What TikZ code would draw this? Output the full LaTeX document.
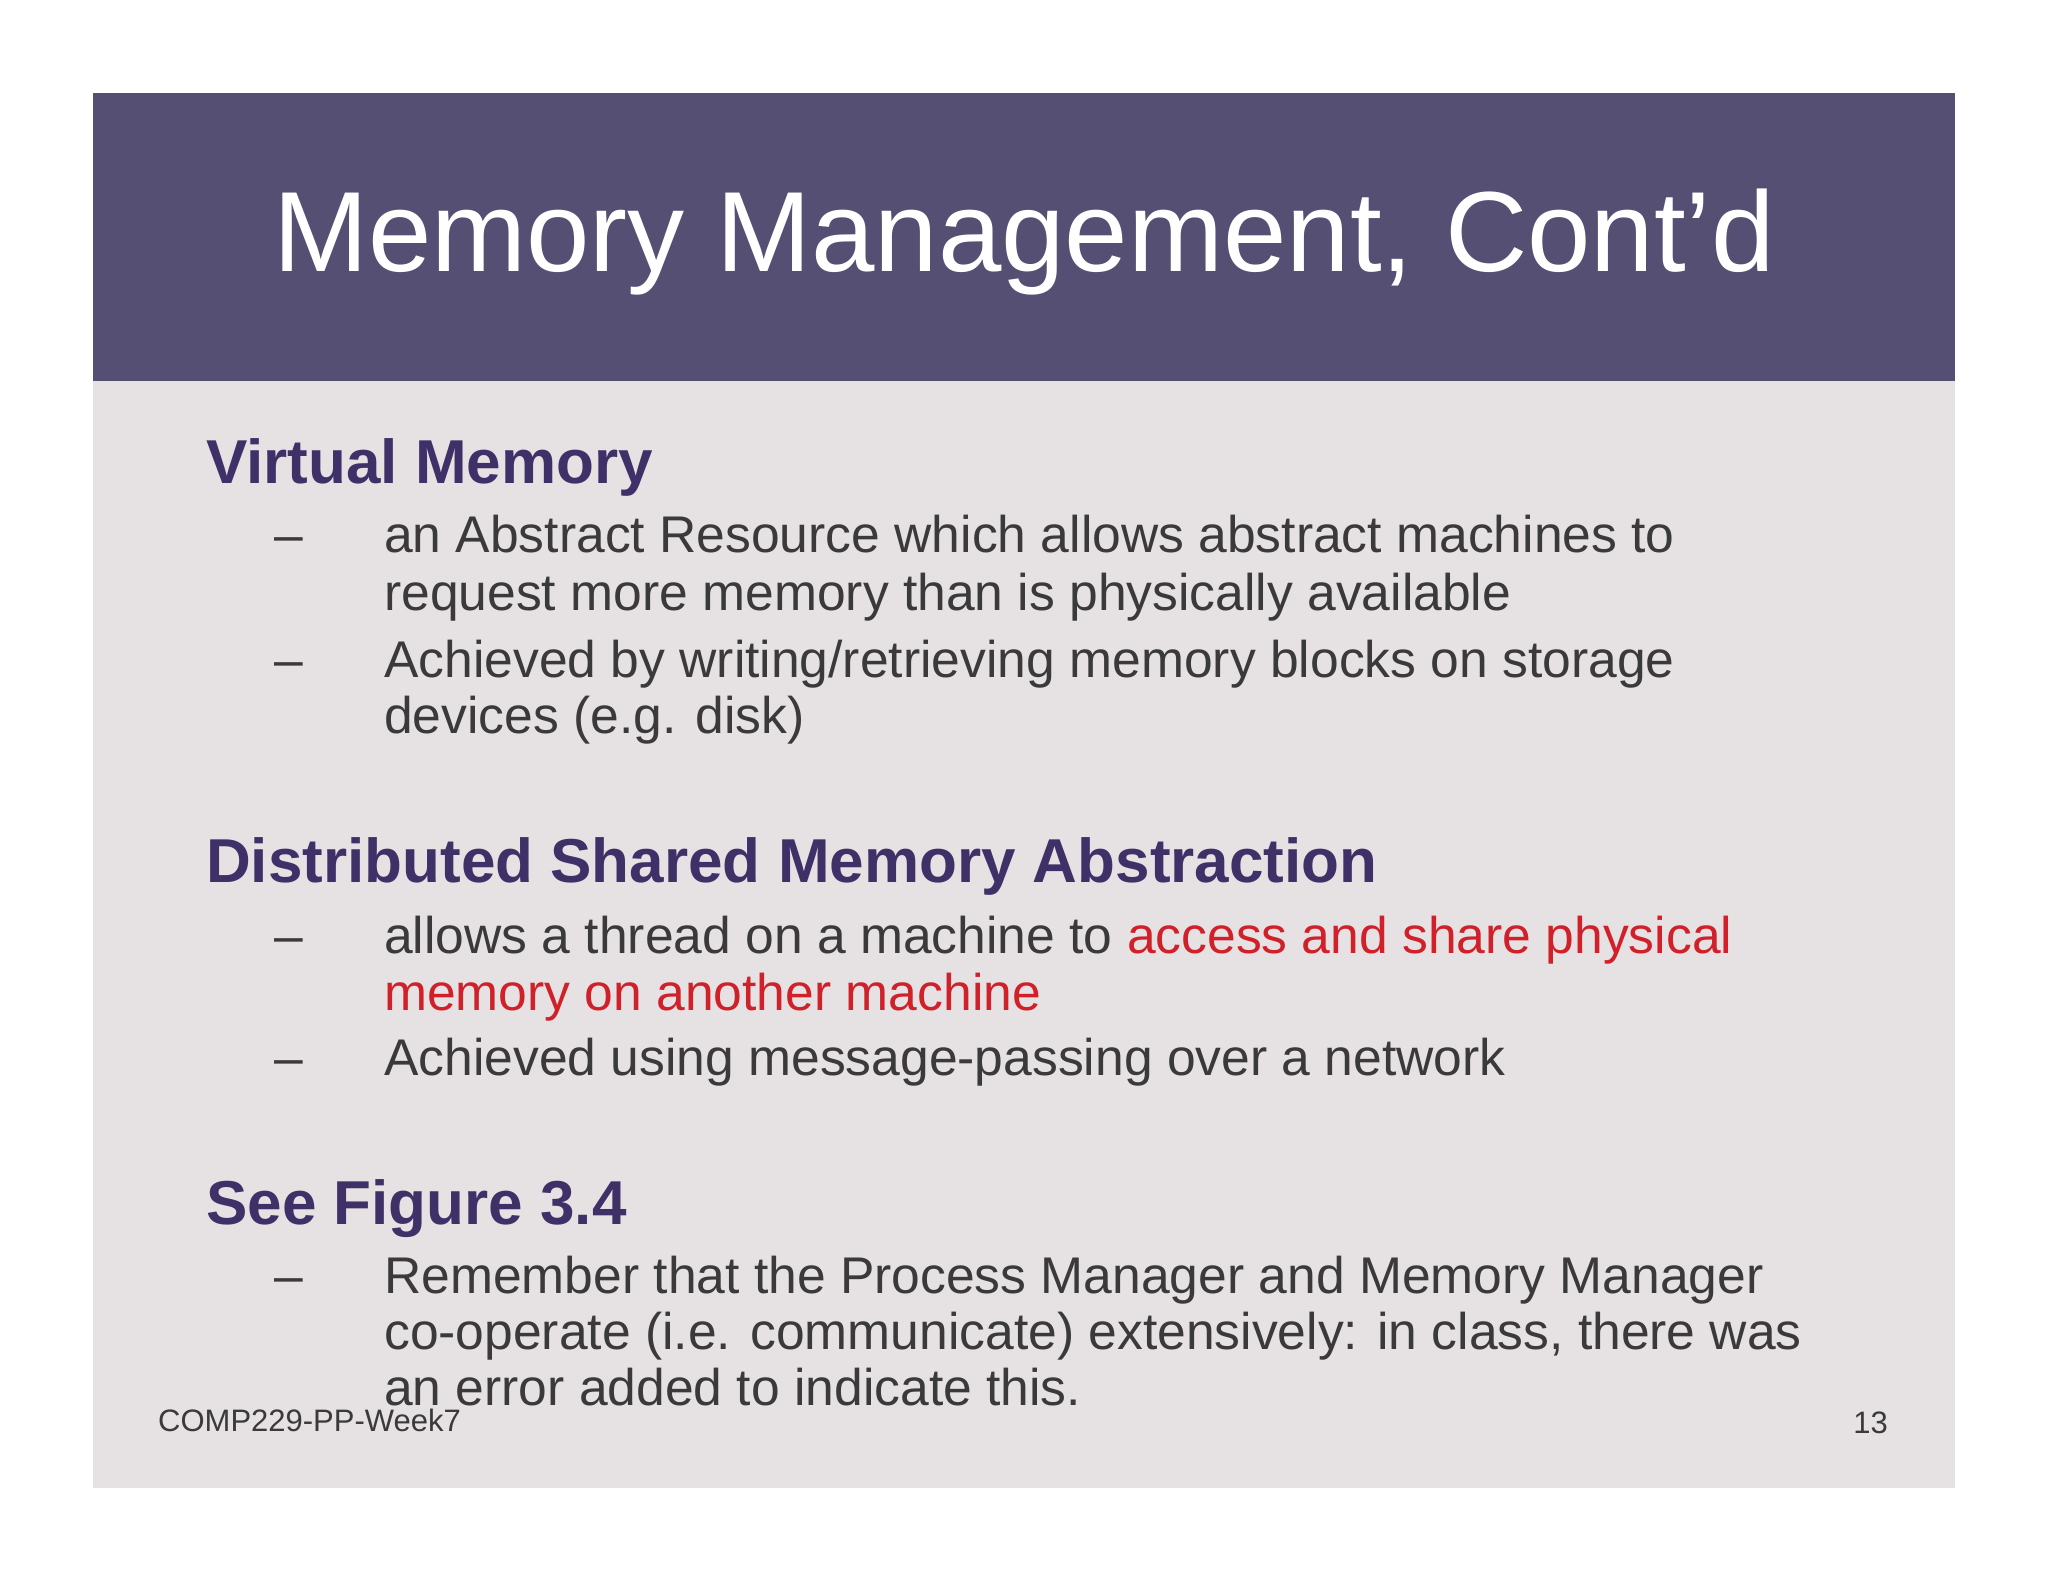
\documentclass[tikz,border=0pt]{standalone}
\usepackage{fontspec}
\setmainfont{Liberation Sans}
\definecolor{hdr}{HTML}{554F73}
\definecolor{bodybg}{HTML}{E6E1E2}
\definecolor{head}{HTML}{3F3068}
\definecolor{txt}{HTML}{3A3A3A}
\definecolor{red}{HTML}{D0202A}
\begin{document}
\begin{tikzpicture}[x=1pt,y=-1pt,
  hd/.style={anchor=base west,inner sep=0,text=head,font=\fontsize{62}{62}\selectfont\bfseries},
  bt/.style={anchor=base west,inner sep=0,text=txt,font=\fontsize{51.6}{52}\selectfont},
  ft/.style={inner sep=0,text=txt,font=\fontsize{31}{31}\selectfont}]
\useasboundingbox (0,0) rectangle (2048,1582);
\fill[white] (0,0) rectangle (2048,1582);
\fill[bodybg] (93,381) rectangle (1955,1488);
\fill[hdr] (93,93) rectangle (1955,381);
\node[inner sep=0,text=white,font=\fontsize{114}{114}\selectfont] (title) at (1024,242) {Memory Management, Cont’d};
\node[hd] (h1) at (206,483) {Virtual Memory};
\node[bt] (d1) at (274,552) {–};
\node[bt] (l1) at (384,552) {an Abstract Resource which allows abstract machines to};
\node[bt] (l2) at (384,610) {request more memory than is physically available};
\node[bt] (d2) at (274,677) {–};
\node[bt] (l3) at (384,677) {Achieved by writing/retrieving memory blocks on storage};
\node[bt] (l4) at (384,733) {devices (e.g. disk)};
\node[hd] (h2) at (206,882) {Distributed Shared Memory Abstraction};
\node[bt] (d3) at (274,953) {–};
\node[bt] (l5) at (384,953) {allows a thread on a machine to \textcolor{red}{access and share physical}};
\node[bt,text=red] (l6) at (384,1010) {memory on another machine};
\node[bt] (d4) at (274,1075) {–};
\node[bt] (l7) at (384,1075) {Achieved using message-passing over a network};
\node[hd] (h3) at (206,1224) {See Figure 3.4};
\node[bt] (d5) at (274,1293) {–};
\node[bt] (l8) at (384,1293) {Remember that the Process Manager and Memory Manager};
\node[bt] (l9) at (384,1349) {co-operate (i.e. communicate) extensively: in class, there was};
\node[bt] (l10) at (384,1405) {an error added to indicate this.};
\node[ft,anchor=base west] (f1) at (158,1431) {COMP229-PP-Week7};
\node[ft,anchor=base east] (f2) at (1888,1433) {13};
\end{tikzpicture}
\end{document}
